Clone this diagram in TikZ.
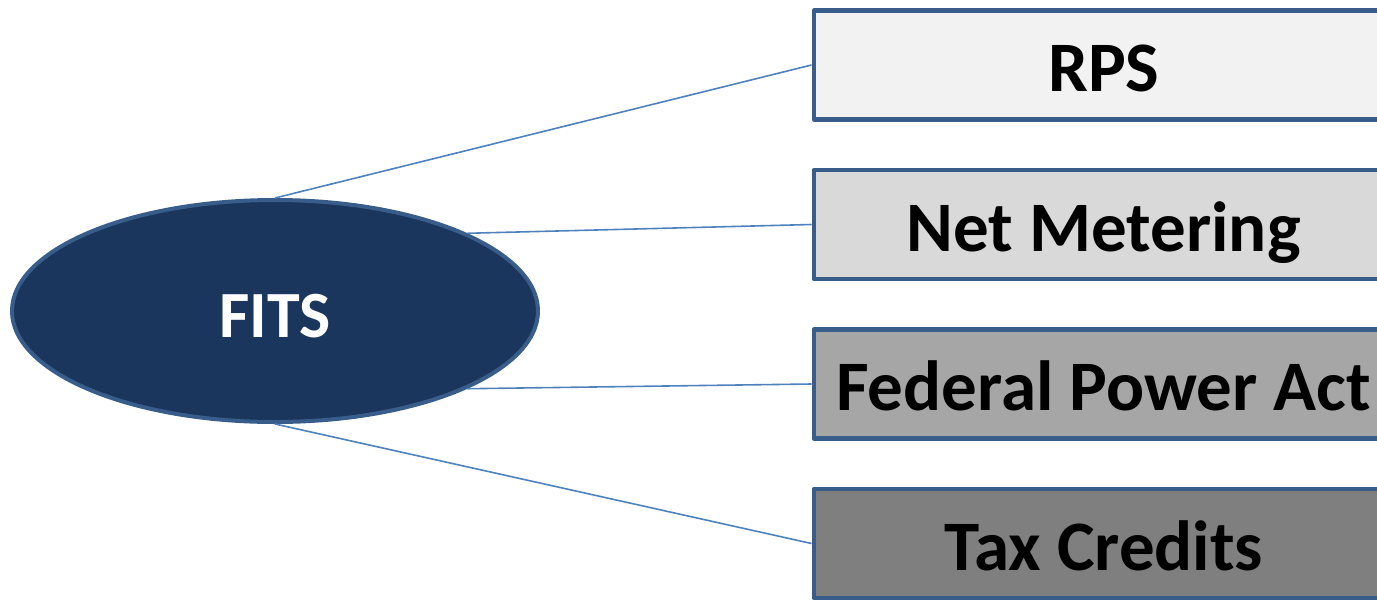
\documentclass[tikz,border=0pt]{standalone}
\usepackage{fontspec}
\setmainfont{Carlito}
\usetikzlibrary{shapes.geometric}
\definecolor{outline}{HTML}{385D8A}
\definecolor{linkblue}{HTML}{4F81BD}
\definecolor{hubfill}{HTML}{1A365D}
\definecolor{boxA}{HTML}{F2F2F2}
\definecolor{boxB}{HTML}{D9D9D9}
\definecolor{boxC}{HTML}{A6A6A6}
\definecolor{boxD}{HTML}{7F7F7F}
\tikzset{
  hub/.style={ellipse, draw=outline, line width=4pt, fill=hubfill,
    minimum width=526pt, minimum height=222pt, inner sep=0pt,
    text height=52pt, text depth=0pt,
    text=white, font=\fontsize{66}{72}\selectfont\bfseries},
  policy/.style={rectangle, draw=outline, line width=4.5pt, line join=round,
    minimum width=580pt, minimum height=109pt, inner sep=0pt,
    text height=53pt, text depth=0pt,
    font=\fontsize{71}{80}\selectfont\bfseries},
  link/.style={draw=linkblue, line width=1.6pt}
}
\begin{document}
\begin{tikzpicture}[x=1pt, y=-1pt]
  \useasboundingbox (0,0) rectangle (1377,600);
  % central policy hub
  \node[hub] (fits) at (275,311) {FITS};
  % related policy instruments, shaded light to dark
  \node[policy, fill=boxA, anchor=west] (rps) at (811.5,65) {RPS};
  \node[policy, fill=boxB, anchor=west] (net) at (811.5,224.5) {Net Metering};
  \node[policy, fill=boxC, anchor=west] (fpa) at (811.5,384) {Federal Power Act};
  \node[policy, fill=boxD, anchor=west] (tax) at (811.5,543.5) {Tax Credits};
  % connectors from the hub to each instrument
  \draw[link] (fits.north) -- (rps.west);
  \draw[link] (fits.22.6) -- (net.west);
  \draw[link] (fits.-22.6) -- (fpa.west);
  \draw[link] (fits.south) -- (tax.west);
\end{tikzpicture}
\end{document}
